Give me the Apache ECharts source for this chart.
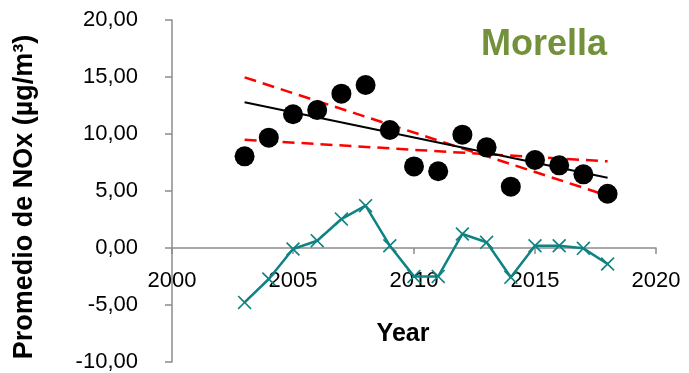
<!DOCTYPE html>
<html>
<head>
<meta charset="utf-8">
<script src="https://cdn.jsdelivr.net/npm/echarts@6/dist/echarts.min.js"></script>
<style>
  html, body { margin: 0; padding: 0; background: #fff; }
  #chart { width: 689px; height: 373px; }
</style>
</head>
<body>
<div id="chart"></div>
<script>
// Annual mean NOx at Morella, with trend and confidence bounds
const years = [2003, 2004, 2005, 2006, 2007, 2008, 2009, 2010, 2011, 2012, 2013, 2014, 2015, 2016, 2017, 2018];
const noxMean = [8.04, 9.68, 11.73, 12.1, 13.54, 14.3, 10.35, 7.16, 6.73, 9.94, 8.83, 5.38, 7.72, 7.25, 6.46, 4.76];
const residuals = [-4.77, -2.72, -0.09, 0.64, 2.54, 3.71, 0.2, -2.49, -2.49, 1.23, 0.5, -2.57, 0.2, 0.2, -0.03, -1.4];
const trendYears = [2003, 2018];
const trendFit = [12.78, 6.17];
const upperBound = [14.97, 4.59];
const lowerBound = [9.5, 7.6];
const yTicks = [-10, -5, 0, 5, 10, 15, 20];

const FONT = 'Liberation Sans, Arial, sans-serif';
const AXIS_GREY = '#8c8c8c';
const TEAL = '#0f8383';

const GRID_TOP = 20, GRID_BOTTOM = 11, CHART_H = 373;

const pairs = (xs, ys) => xs.map((x, i) => [x, ys[i]]);
const fmt = v => v.toFixed(2).replace('.', ',');

// The year axis sits on the zero line: shift it up from the grid bottom by
// the pixel height of the span between the y minimum and zero.
const plotH = CHART_H - GRID_TOP - GRID_BOTTOM;
const yMin = yTicks[0], yMax = yTicks[yTicks.length - 1];
const zeroOffset = -plotH * (0 - yMin) / (yMax - yMin);

const crossPath = 'path://M0,1L1,0L6,5L11,0L12,1L7,6L12,11L11,12L6,7L1,12L0,11L5,6Z';

const chart = echarts.init(document.getElementById('chart'));
chart.setOption({
  animation: false,
  backgroundColor: '#ffffff',
  title: {
    text: 'Morella',
    left: 476,
    top: 22,
    textStyle: { fontFamily: FONT, fontSize: 36, fontWeight: 'bold', color: '#72913a' }
  },
  grid: { left: 172, right: 33, top: GRID_TOP, bottom: GRID_BOTTOM, containLabel: false, outerBoundsMode: 'none' },
  xAxis: {
    type: 'value',
    min: 2000,
    max: 2020,
    interval: 5,
    offset: zeroOffset,
    name: 'Year',
    nameLocation: 'middle',
    nameGap: 74,
    nameTextStyle: { fontFamily: FONT, fontSize: 25, fontWeight: 'bold', color: '#000', padding: [0, 22, 0, 0] },
    axisLine: { onZero: false, lineStyle: { color: AXIS_GREY, width: 1.5 } },
    axisTick: { show: true, length: 6, inside: false, lineStyle: { color: AXIS_GREY, width: 1.5 } },
    axisLabel: { fontFamily: FONT, fontSize: 22, color: '#000', margin: 22, formatter: v => String(v) },
    splitLine: { show: false },
    z: 0
  },
  yAxis: {
    type: 'value',
    min: yMin,
    max: yMax,
    interval: 5,
    name: 'Promedio de NOx (µg/m³)',
    nameLocation: 'middle',
    nameRotate: 90,
    nameGap: 134,
    nameTextStyle: { fontFamily: FONT, fontSize: 27, fontWeight: 'bold', color: '#000', padding: [0, 12, 0, 0] },
    axisLine: { show: true, lineStyle: { color: AXIS_GREY, width: 1.5 } },
    axisTick: { show: true, length: 7, lineStyle: { color: AXIS_GREY, width: 1.5 } },
    axisLabel: { fontFamily: FONT, fontSize: 22, color: '#000', margin: 34, formatter: fmt },
    splitLine: { show: false }
  },
  series: [
    {
      name: 'Residual',
      type: 'line',
      data: pairs(years, residuals),
      symbol: crossPath,
      symbolSize: 14,
      lineStyle: { color: TEAL, width: 2.5 },
      itemStyle: { color: TEAL },
      z: 2
    },
    {
      name: 'Upper bound',
      type: 'line',
      data: pairs(trendYears, upperBound),
      showSymbol: false,
      lineStyle: { color: '#ff0000', width: 2.5, type: [12, 7] },
      z: 3
    },
    {
      name: 'Lower bound',
      type: 'line',
      data: pairs(trendYears, lowerBound),
      showSymbol: false,
      lineStyle: { color: '#ff0000', width: 2.5, type: [12, 7] },
      z: 3
    },
    {
      name: 'Trend',
      type: 'line',
      data: pairs(trendYears, trendFit),
      showSymbol: false,
      lineStyle: { color: '#000', width: 2 },
      z: 4
    },
    {
      name: 'NOx',
      type: 'scatter',
      data: pairs(years, noxMean),
      symbol: 'circle',
      symbolSize: 20,
      itemStyle: { color: '#000', opacity: 1 },
      z: 5
    }
  ]
});
</script>
</body>
</html>
